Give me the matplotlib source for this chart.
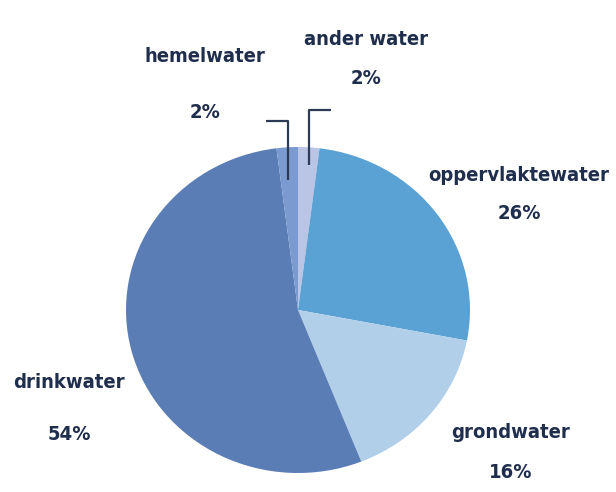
import matplotlib.pyplot as plt
from matplotlib import font_manager

# data (clockwise from top)
labels = ["ander water", "oppervlaktewater", "grondwater", "drinkwater", "hemelwater"]
pct = [2, 26, 16, 54, 2]
colors = ["#BAC4E4", "#5BA2D4", "#B2CFEA", "#5B7DB6", "#7B9ACF"]

# pick the narrowest font that is around
names = {f.name for f in font_manager.fontManager.ttflist}
cond = {(f.name, f.stretch) for f in font_manager.fontManager.ttflist}
if "Liberation Sans Narrow" in names:
    fam, stretch, fs = "Liberation Sans Narrow", "normal", 18
elif ("DejaVu Sans", "condensed") in cond or "DejaVu Sans Condensed" in names:
    fam = "DejaVu Sans Condensed" if "DejaVu Sans Condensed" in names else "DejaVu Sans"
    stretch, fs = "condensed", 14.5
else:
    fam, stretch, fs = "DejaVu Sans", "normal", 13.5

W, H = 616, 492
k = 172 / 163  # pie is a bit squashed vertically

def Y(ypx):
    return (H - ypx) * k

fig = plt.figure(figsize=(W / 100, H / 100), dpi=100)
ax = fig.add_axes([0, 0, 1, 1])
ax.pie(pct, colors=colors, startangle=90, counterclock=False,
       center=(298, Y(310)), radius=172, frame=True,
       wedgeprops=dict(linewidth=0))
ax.set_aspect("auto")
ax.set_xlim(0, W)
ax.set_ylim(0, H * k)
ax.axis("off")

txtc = "#1F2E4C"
font = dict(family=[fam, "DejaVu Sans"], fontstretch=stretch, fontweight="bold",
            color=txtc, fontsize=fs, ha="center", va="center")

# label positions in pixels: (name x, name y, pct y)
pos = {
    "hemelwater": (205, 56, 112),
    "ander water": (366, 39, 78),
    "oppervlaktewater": (519, 175, 213),
    "drinkwater": (69, 383, 435),
    "grondwater": (511, 433, 472),
}
for lab, p in zip(labels, pct):
    x, y1, y2 = pos[lab]
    ax.text(x, Y(y1), lab, **font)
    ax.text(x, Y(y2), f"{p}%", **font)

# leader lines for the small slices
lc = "#2B3A55"
ax.plot([266, 288, 288], [Y(121), Y(121), Y(180)], color=lc, lw=1.6, solid_capstyle="butt")
ax.plot([331, 309, 309], [Y(110), Y(110), Y(165)], color=lc, lw=1.6, solid_capstyle="butt")

fig.savefig("out.png", dpi=100)
